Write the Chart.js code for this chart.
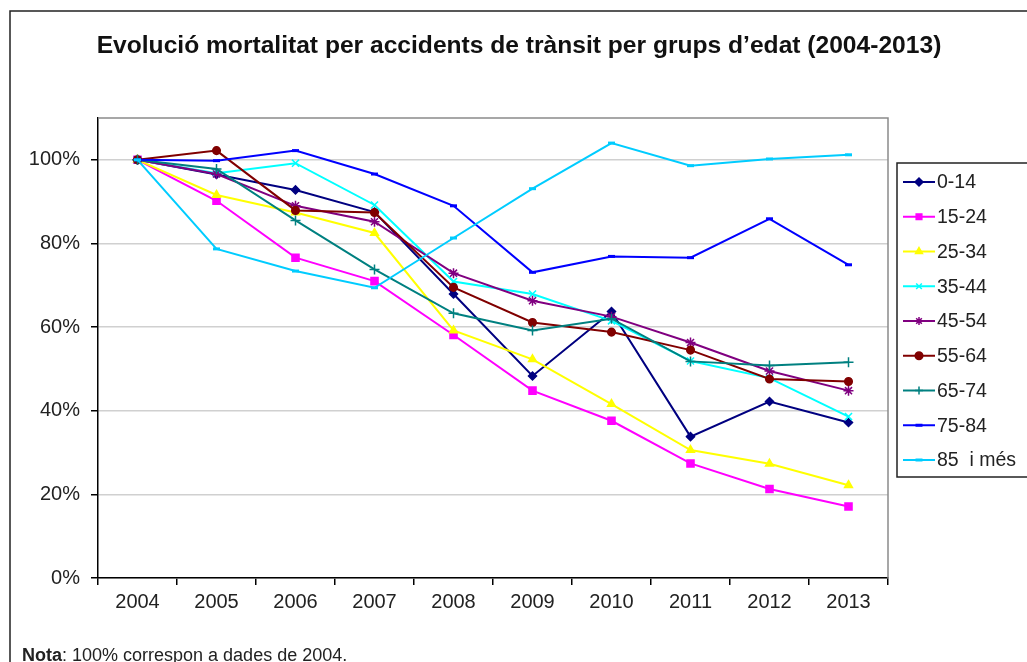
<!DOCTYPE html>
<html>
<head>
<meta charset="utf-8">
<script src="https://cdn.jsdelivr.net/npm/chart.js"></script>
<style>
  html, body { margin: 0; padding: 0; background: #fff; }
</style>
</head>
<body>
<canvas id="myChart" width="1027" height="662"></canvas>
<script>
// anys i grups d'edat
const years = ['2004', '2005', '2006', '2007', '2008', '2009', '2010', '2011', '2012', '2013'];
const groups = ['0-14', '15-24', '25-34', '35-44', '45-54', '55-64', '65-74', '75-84', '85  i més'];
const yTicks = [0, 20, 40, 60, 80, 100];

// % respecte a 2004 (llegit del gràfic)
const g0_14  = [100, 96.5, 92.8, 87.5, 67.9, 48.3, 63.7, 33.8, 42.2, 37.2];
const g15_24 = [100, 90.2, 76.6, 71.0, 58.1, 44.8, 37.6, 27.4, 21.3, 17.1];
const g25_34 = [100, 91.6, 87.4, 82.5, 59.2, 52.3, 41.6, 30.6, 27.3, 22.2];
const g35_44 = [100, 96.8, 99.2, 89.2, 70.9, 67.9, 61.5, 51.9, 47.8, 38.6];
const g45_54 = [100, 96.6, 89.0, 85.2, 72.9, 66.3, 62.5, 56.3, 49.5, 44.8];
const g55_64 = [100, 102.2, 87.9, 87.4, 69.5, 61.1, 58.8, 54.5, 47.6, 47.0];
const g65_74 = [100, 97.8, 85.5, 73.8, 63.3, 59.2, 62.0, 51.8, 50.8, 51.6];
const g75_84 = [100, 99.8, 102.2, 96.6, 89.0, 73.1, 76.9, 76.6, 85.9, 74.9];
const g85    = [100, 78.7, 73.4, 69.4, 81.3, 93.1, 104.0, 98.6, 100.2, 101.2];

const series = [g0_14, g15_24, g25_34, g35_44, g45_54, g55_64, g65_74, g75_84, g85];
const colors = ['#000080', '#ff00ff', '#ffff00', '#00ffff', '#800080', '#800000', '#008080', '#0000ff', '#00ccff'];
const markers = ['rectRot', 'rect', 'triangle', 'crossRot', 'star', 'circle', 'cross', 'line', 'line'];
const markerSize = [4, 5, 4.5, 5, 5, 3.8, 5, 3.5, 3.5];

const FONT = "'Liberation Sans', Arial, sans-serif";

const datasets = series.map(function(vals, i) {
  return {
    label: groups[i],
    data: vals,
    borderColor: colors[i],
    backgroundColor: colors[i],
    borderWidth: 2,
    pointStyle: markers[i],
    pointRadius: markerSize[i],
    pointBorderWidth: markers[i] === 'line' ? 3 : 1.5,
    pointBackgroundColor: colors[i],
    pointBorderColor: colors[i],
    tension: 0,
    order: series.length - 1 - i
  };
});

// titol, nota, marc i llegenda
const decor = {
  id: 'decor',
  beforeDatasetsDraw(chart) {
    const ctx = chart.ctx, a = chart.chartArea;
    ctx.save();
    ctx.strokeStyle = '#8a8a8a';
    ctx.lineWidth = 1.5;
    ctx.beginPath();
    ctx.moveTo(a.left, a.top);
    ctx.lineTo(a.right, a.top);
    ctx.lineTo(a.right, a.bottom);
    ctx.stroke();
    ctx.restore();
  },
  afterDraw(chart) {
    const ctx = chart.ctx;
    ctx.save();
    // marc exterior
    ctx.strokeStyle = '#222';
    ctx.lineWidth = 1.5;
    ctx.strokeRect(10, 11, 1100, 700);

    // titol
    ctx.fillStyle = '#111';
    ctx.font = 'bold 24.6px ' + FONT;
    ctx.textAlign = 'center';
    ctx.textBaseline = 'alphabetic';
    ctx.fillText('Evolució mortalitat per accidents de trànsit per grups d’edat (2004-2013)', 519, 53);

    // nota
    ctx.textAlign = 'left';
    ctx.font = 'bold 18px ' + FONT;
    ctx.fillStyle = '#222';
    ctx.fillText('Nota', 22, 661);
    const w = ctx.measureText('Nota').width;
    ctx.font = '18px ' + FONT;
    ctx.fillText(': 100% correspon a dades de 2004.', 22 + w, 661);

    // llegenda
    ctx.strokeStyle = '#222';
    ctx.lineWidth = 1.5;
    ctx.strokeRect(897, 163, 140, 314);
    ctx.font = '19.5px ' + FONT;
    ctx.textBaseline = 'middle';
    chart.data.datasets.forEach(function(ds, i) {
      const y = 182 + i * 34.75;
      ctx.strokeStyle = ds.borderColor;
      ctx.lineWidth = 2;
      ctx.beginPath();
      ctx.moveTo(903, y);
      ctx.lineTo(935, y);
      ctx.stroke();
      ctx.fillStyle = ds.borderColor;
      ctx.lineWidth = ds.pointBorderWidth;
      Chart.helpers.drawPoint(ctx, {
        pointStyle: ds.pointStyle,
        radius: Math.min(ds.pointRadius, 4),
        borderWidth: ds.pointBorderWidth,
        rotation: 0
      }, 919, y);
      ctx.fillStyle = '#222';
      ctx.fillText(ds.label, 937, y + 1);
    });
    ctx.restore();
  }
};

const config = {
  type: 'line',
  data: { labels: years, datasets: datasets },
  options: {
    responsive: false,
    animation: false,
    layout: { padding: { left: 0, top: 118, right: 139, bottom: 0 } },
    plugins: {
      legend: { display: false },
      title: { display: false },
      tooltip: { enabled: false }
    },
    scales: {
      x: {
        offset: true,
        grid: { offset: true, drawOnChartArea: false, drawTicks: true, tickLength: 7, tickColor: '#000', lineWidth: 1.5 },
        border: { color: '#000', width: 1.5 },
        ticks: { color: '#222', font: { family: FONT, size: 20 }, padding: 5, maxRotation: 0, autoSkip: false },
        afterFit: function(s) { s.height = 84; }
      },
      y: {
        min: 0,
        max: 110,
        afterBuildTicks: function(s) { s.ticks = yTicks.map(function(v) { return { value: v }; }); },
        grid: { color: '#d0d0d0', lineWidth: 1.5, tickLength: 7, tickColor: '#000' },
        border: { color: '#000', width: 1.5 },
        ticks: {
          color: '#222',
          font: { family: FONT, size: 20 },
          padding: 11,
          callback: function(v) { return v + '%'; }
        },
        afterFit: function(s) { s.width = 98; }
      }
    }
  },
  plugins: [decor]
};

const myChart = new Chart(document.getElementById('myChart'), config);
</script>
</body>
</html>
